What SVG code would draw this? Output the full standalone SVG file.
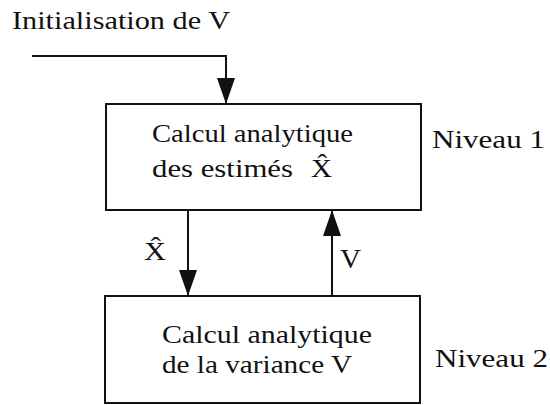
<svg xmlns="http://www.w3.org/2000/svg" width="550" height="405" viewBox="0 0 550 405">
<style>
  .box { fill: #fff; stroke: #111; stroke-width: 2; }
  .conn { fill: none; stroke: #111; stroke-width: 2; }
</style>
<defs>
  <marker id="arrow" markerUnits="userSpaceOnUse" viewBox="0 0 26 18" markerWidth="26" markerHeight="18" refX="26" refY="9" orient="auto">
    <path d="M0,0 L26,9 L0,18 Z" fill="#111"/>
  </marker>
</defs>
<rect width="550" height="405" fill="#fff"/>

<g font-family="'Liberation Serif', 'Times New Roman', serif" font-size="26" fill="#111">
<g id="init-label">
  <text x="12" y="29" textLength="218" lengthAdjust="spacingAndGlyphs">Initialisation de V</text>
</g>

<g id="niveau1">
  <rect class="box" x="106" y="104" width="315" height="106"/>
  <text x="152" y="142" textLength="201" lengthAdjust="spacingAndGlyphs">Calcul analytique</text>
  <text x="152" y="177" textLength="141" lengthAdjust="spacingAndGlyphs">des estimés</text>
  <text x="311" y="177" textLength="21" lengthAdjust="spacingAndGlyphs">X̂</text>
</g>
<text x="432" y="148" textLength="113" lengthAdjust="spacingAndGlyphs">Niveau 1</text>

<g id="niveau2">
  <rect class="box" x="105" y="296" width="315" height="107"/>
  <text x="162" y="343" textLength="210" lengthAdjust="spacingAndGlyphs">Calcul analytique</text>
  <text x="162" y="373" textLength="190" lengthAdjust="spacingAndGlyphs">de la variance V</text>
</g>
<text x="435" y="367" textLength="113" lengthAdjust="spacingAndGlyphs">Niveau 2</text>

<g id="connectors">
  <path class="conn" d="M32,56 H226 V104" marker-end="url(#arrow)"/>
  <path class="conn" d="M188,210 V296" marker-end="url(#arrow)"/>
  <path class="conn" d="M332,296 V210" marker-end="url(#arrow)"/>
  <text x="144" y="260" textLength="22" lengthAdjust="spacingAndGlyphs">X̂</text>
  <text x="340" y="268" textLength="21" lengthAdjust="spacingAndGlyphs" font-size="28">V</text>
</g>
</g>
</svg>
